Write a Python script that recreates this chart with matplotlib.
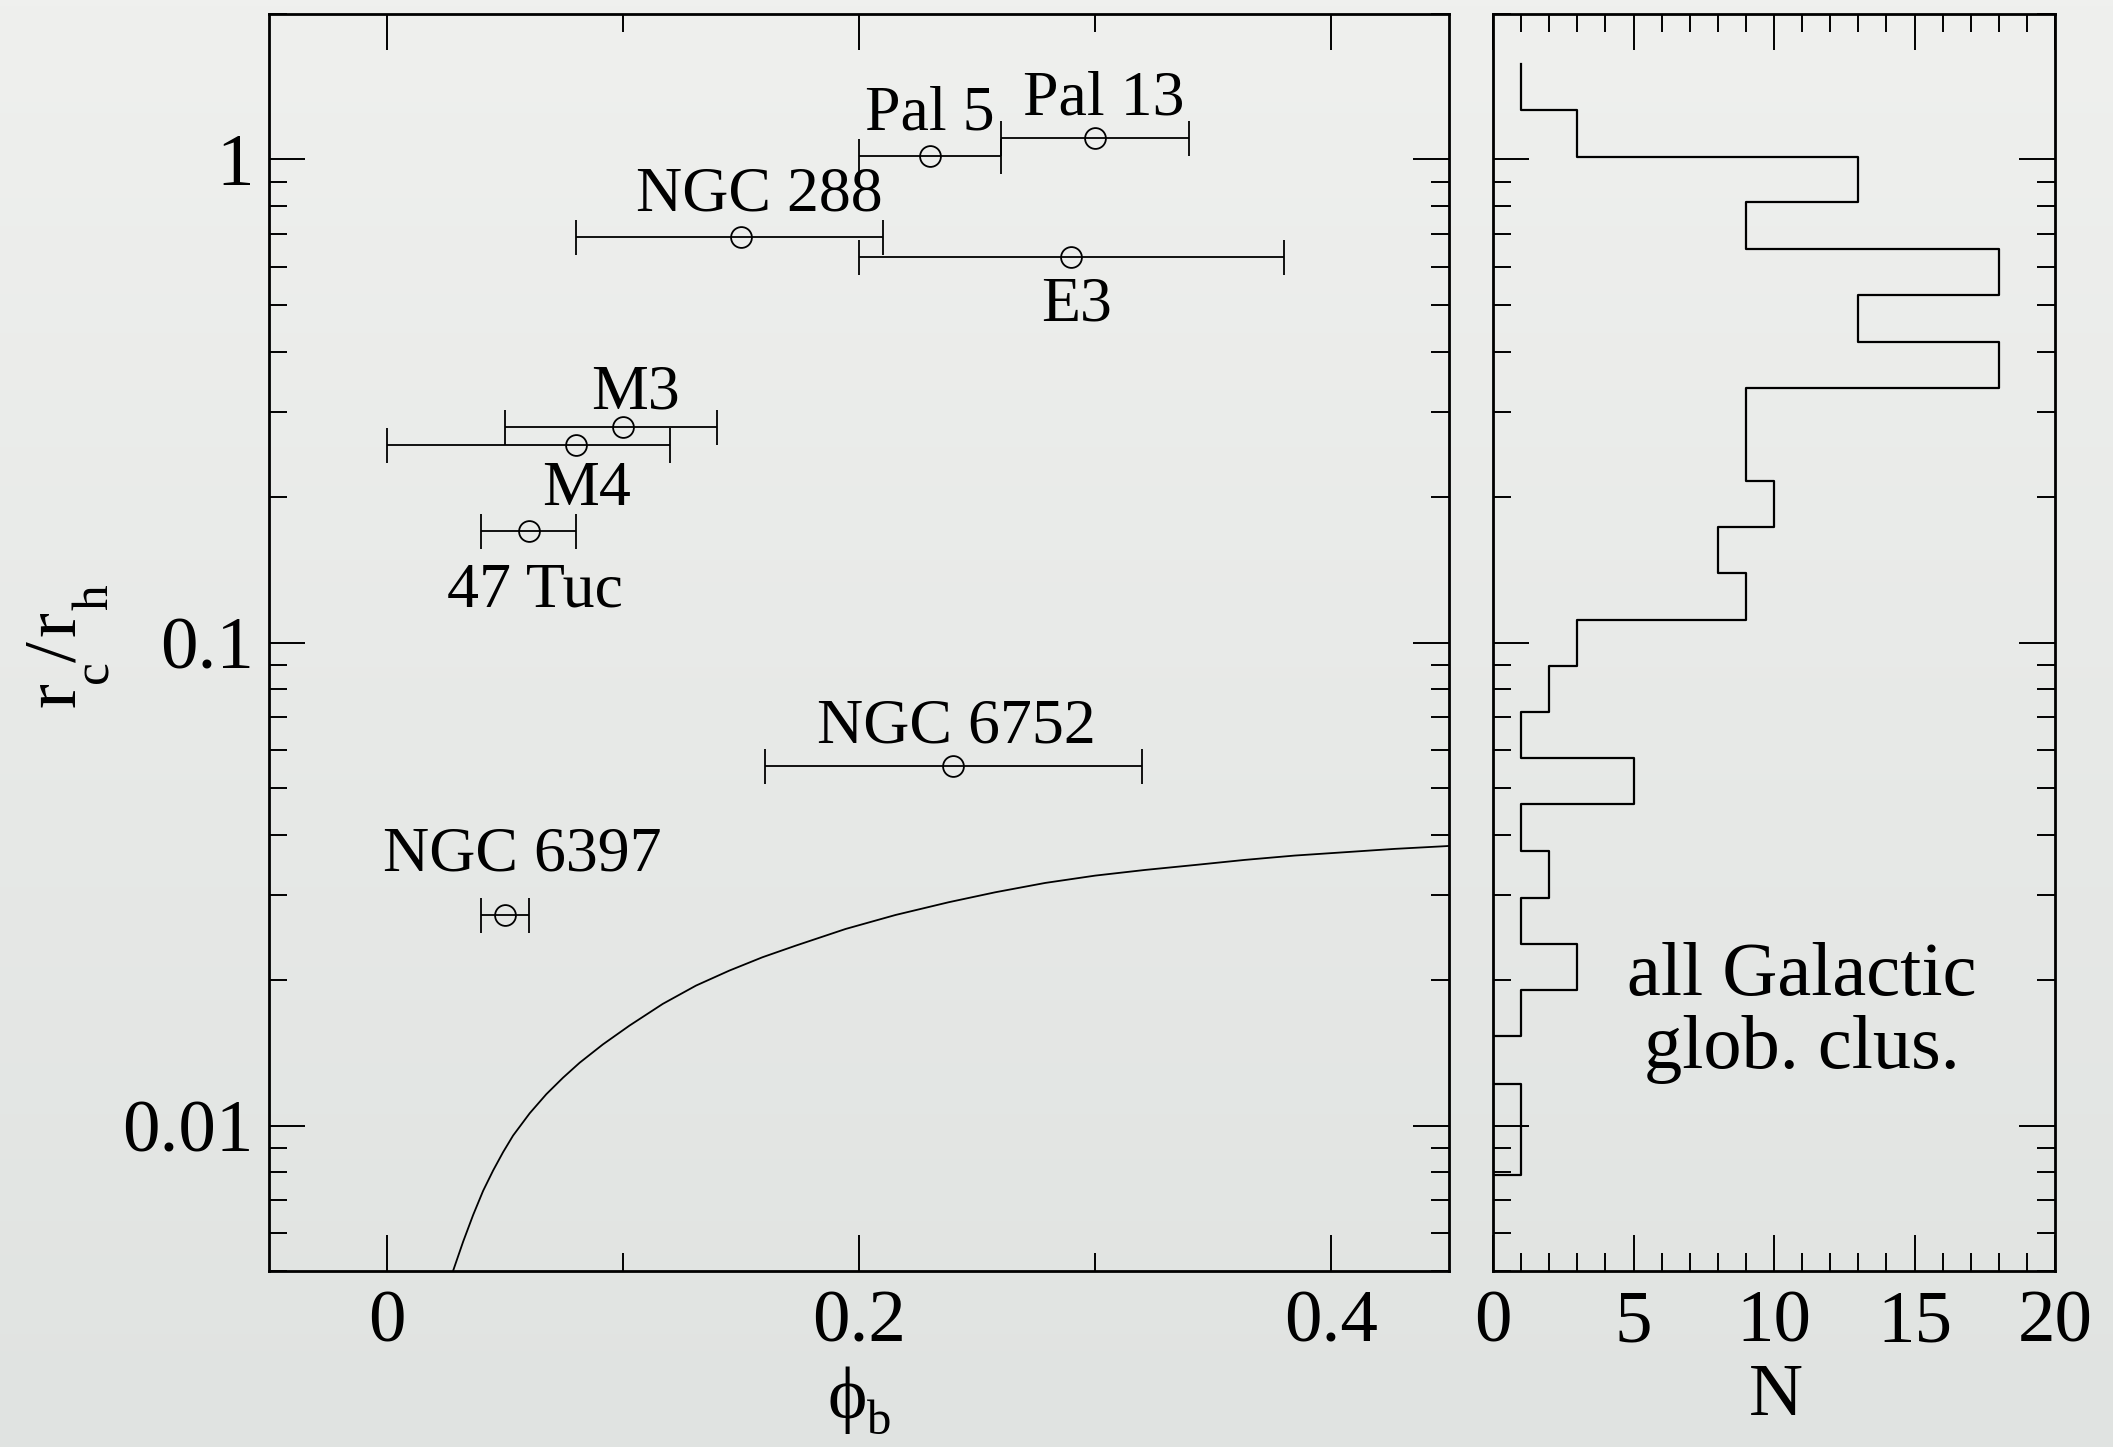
import numpy as np
import matplotlib.pyplot as plt
from matplotlib.colors import LinearSegmentedColormap
from matplotlib.transforms import IdentityTransform
from matplotlib.ticker import MultipleLocator, LogLocator, NullFormatter, FuncFormatter

plt.rcParams['font.family'] = ['Liberation Serif', 'DejaVu Serif']

# ---- globular clusters: phi_b with range, r_c/r_h ----
clusters = ['Pal 5', 'Pal 13', 'NGC 288', 'E3', 'M3', 'M4', '47 Tuc', 'NGC 6752', 'NGC 6397']
phi_b = [0.23, 0.30, 0.15, 0.29, 0.10, 0.08, 0.06, 0.24, 0.05]
phi_lo = [0.20, 0.26, 0.08, 0.20, 0.05, 0.00, 0.04, 0.16, 0.04]
phi_hi = [0.26, 0.34, 0.21, 0.38, 0.14, 0.12, 0.08, 0.32, 0.06]
rc_rh = [1.017, 1.107, 0.69, 0.627, 0.279, 0.256, 0.170, 0.0554, 0.0273]

# where each name sits (phi, r_c/r_h at text baseline)
label_pos = [(0.230, 1.155), (0.3038, 1.241), (0.1577, 0.783), (0.292, 0.4637),
             (0.1053, 0.3052), (0.0845, 0.193), (0.0626, 0.1185),
             (0.2412, 0.062), (0.0575, 0.0337)]

# ---- model curve ----
curve_phi = [0.02805, 0.03228, 0.03650, 0.04073, 0.04496, 0.04919, 0.05342, 0.06047,
             0.06751, 0.07456, 0.08161, 0.09147, 0.10275, 0.11684, 0.13094, 0.14503,
             0.15912, 0.17322, 0.19436, 0.21551, 0.23805, 0.2578, 0.2789,
             0.3001, 0.3212, 0.3424, 0.3635, 0.3846, 0.4058, 0.4269, 0.4481, 0.4500]
curve_r = [0.005012, 0.005754, 0.006531, 0.007328, 0.008072, 0.008810, 0.009535, 0.010605,
           0.011614, 0.012560, 0.013490, 0.014723, 0.016106, 0.01786, 0.01949, 0.02093,
           0.02231, 0.02358, 0.02553, 0.02729, 0.02900, 0.03041, 0.03179,
           0.03292, 0.03382, 0.03463, 0.03548, 0.03622, 0.03680, 0.03739, 0.03787, 0.03792]

# ---- histogram of all Galactic globular clusters (log10 r_c/r_h bins, top -> bottom) ----
hist_edges_log = [0.197, 0.103, 0.006, -0.089, -0.185, -0.281, -0.378, -0.473, -0.569,
                  -0.665, -0.761, -0.857, -0.953, -1.048, -1.143, -1.240, -1.334,
                  -1.431, -1.529, -1.624, -1.720, -1.815, -1.913, -2.007, -2.102]
hist_counts = [1, 3, 13, 9, 18, 13, 18, 9, 9, 10, 8, 9, 3, 2, 1, 5, 1, 2, 1, 3, 1, 0, 1, 1]

W, H = 2113, 1447
fig = plt.figure(figsize=(W / 100, H / 100), dpi=100)
px = IdentityTransform()

# soft grey paper background
bg = fig.add_axes([0, 0, 1, 1], zorder=-10)
grad = np.linspace(0, 1, 256).reshape(-1, 1)
bg.imshow(grad, aspect='auto', cmap=LinearSegmentedColormap.from_list('bg', ['#eff0ee', '#e0e3e1']))
bg.set_axis_off()

bottom = (H - 1271) / H
height = 1257 / H
ax = fig.add_axes([269 / W, bottom, 1180 / W, height])
axh = fig.add_axes([1493 / W, bottom, 562 / W, height])
for a in (ax, axh):
    a.set_facecolor('none')
    for s in a.spines.values():
        s.set_linewidth(2.0)

fmt = FuncFormatter(lambda v, p: '%g' % v)

# main panel
ax.errorbar(phi_b, rc_rh,
            xerr=[np.subtract(phi_b, phi_lo), np.subtract(phi_hi, phi_b)],
            fmt='o', ms=15, mfc='none', mec='black', mew=1.3, color='black',
            elinewidth=1.3, capsize=12.6, capthick=1.3)
ax.plot(curve_phi, curve_r, color='black', lw=1.3)
for name, (lx, ly) in zip(clusters, label_pos):
    ax.text(lx, ly, name, fontsize=46, ha='center', va='baseline')

ax.set_yscale('log')
ax.set_xlim(-0.05, 0.45)
ax.set_ylim(0.005, 2)
ax.xaxis.set_major_locator(MultipleLocator(0.2))
ax.xaxis.set_minor_locator(MultipleLocator(0.1))
ax.xaxis.set_major_formatter(fmt)
ax.yaxis.set_major_locator(LogLocator(base=10))
ax.yaxis.set_minor_locator(LogLocator(base=10, subs=np.arange(2, 10)))
ax.yaxis.set_major_formatter(fmt)
ax.yaxis.set_minor_formatter(NullFormatter())

# histogram panel
xs = np.append(np.repeat(hist_counts, 2), 0)
ys = 10 ** np.repeat(hist_edges_log, 2)[1:]
axh.plot(xs, ys, color='black', lw=1.6)
axh.text(11, 0.01866, 'all Galactic', fontsize=55, ha='center', va='baseline')
axh.text(11, 0.01314, 'glob. clus.', fontsize=55, ha='center', va='baseline')

axh.set_yscale('log')
axh.set_xlim(0, 20)
axh.set_ylim(0.005, 2)
axh.xaxis.set_major_locator(MultipleLocator(5))
axh.xaxis.set_minor_locator(MultipleLocator(1))
axh.xaxis.set_major_formatter(fmt)
axh.yaxis.set_major_locator(LogLocator(base=10))
axh.yaxis.set_minor_locator(LogLocator(base=10, subs=np.arange(2, 10)))
axh.yaxis.set_major_formatter(NullFormatter())
axh.yaxis.set_minor_formatter(NullFormatter())

for a in (ax, axh):
    a.tick_params(which='both', direction='in', top=True, right=True, width=1.4)
    a.tick_params(which='major', length=26, labelsize=54)
    a.tick_params(which='minor', length=13)
    a.tick_params(axis='x', which='major', pad=14)
    a.tick_params(axis='y', which='major', pad=11)

# axis titles, set piece by piece so the subscripts sit low like the original
# (text, size, x, y) in pixels measured from the top-left corner
xlabel_parts = [('\u03d5', 54, 827, 1418), ('b', 35, 867, 1434)]
for s, size, x, y in xlabel_parts:
    fig.text(x, H - y, s, fontsize=size, ha='left', va='baseline', transform=px)

ylabel_parts = [('r', 54, 75, 707), ('c', 37, 107, 683), ('/', 54, 75, 662),
                ('r', 54, 75, 636), ('h', 37, 107, 610)]
for s, size, x, y in ylabel_parts:
    fig.text(x, H - y, s, fontsize=size, ha='left', va='baseline',
             rotation=90, rotation_mode='anchor', transform=px)

fig.text(1776, H - 1415, 'N', fontsize=54, ha='center', va='baseline', transform=px)

fig.savefig('out.png', dpi=100)
